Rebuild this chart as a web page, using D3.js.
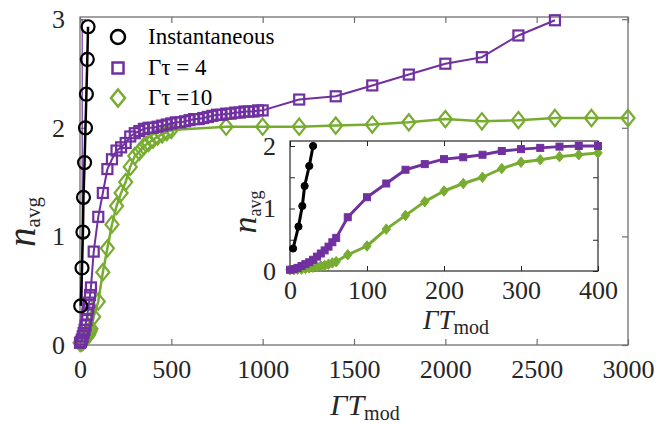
<!DOCTYPE html>
<html>
<head>
<meta charset="utf-8">
<script src="https://cdn.jsdelivr.net/npm/d3@7"></script>
<style>
  body { margin: 0; background: #ffffff; }
  svg { display: block; }
</style>
</head>
<body>
<script>
// ---- data ----
var instX = [4, 11, 16, 19, 25, 30, 35, 40, 44];
var instY = [0.36, 0.71, 1.04, 1.36, 1.68, 2.0, 2.31, 2.63, 2.93];

var tau4X = [0, 5, 10, 15, 20, 25, 30, 35, 40, 45, 50, 55, 60,
    75, 100, 125, 150, 175, 200, 225, 250, 275, 300, 325, 350, 375, 400,
    425, 450, 475, 500, 525, 550, 575, 600, 625, 650, 675, 700, 725, 750,
    775, 800, 825, 850, 875, 900, 925, 950, 975, 1000,
    1200, 1400, 1600, 1800, 2000, 2200, 2400, 2600];
var tau4Y = [0.02, 0.03, 0.05, 0.08, 0.11, 0.14, 0.18, 0.23, 0.28, 0.33, 0.39, 0.46, 0.53,
    0.86, 1.18, 1.40, 1.62, 1.71, 1.79, 1.82, 1.86, 1.92, 1.95, 1.97, 1.99, 2.0, 2.0,
    2.01, 2.02, 2.03, 2.04, 2.05, 2.05, 2.06, 2.07, 2.08, 2.08, 2.09, 2.10, 2.11, 2.12,
    2.12, 2.13, 2.13, 2.14, 2.14, 2.15, 2.15, 2.15, 2.16, 2.16,
    2.26, 2.29, 2.39, 2.49, 2.59, 2.65, 2.85, 2.99];

var tau10X = [0, 5, 10, 15, 20, 25, 30, 35, 40, 45, 50, 55, 60,
    75, 100, 125, 150, 175, 200, 225, 250, 275, 300, 325, 350, 375, 400,
    425, 450, 475, 500,
    800, 1000, 1200, 1400, 1600, 1800, 2000, 2200, 2400, 2600, 2800, 3000];
var tau10Y = [0.02, 0.02, 0.03, 0.03, 0.04, 0.05, 0.06, 0.07, 0.08, 0.09, 0.11, 0.13, 0.15,
    0.26, 0.40, 0.67, 0.89, 1.11, 1.28, 1.40, 1.50, 1.64, 1.74, 1.78, 1.83, 1.86, 1.89,
    1.92, 1.94, 1.96, 1.98,
    2.01, 2.01, 2.01, 2.02, 2.03, 2.05, 2.08, 2.06, 2.07, 2.09, 2.09, 2.09];

// thin purple trace hugging the left axis
var edgeX = [12, 12];
var edgeY = [0, 3];

var mainXTicks = [0, 500, 1000, 1500, 2000, 2500, 3000];
var mainYTicks = [0, 1, 2, 3];
var insetXTicks = [0, 100, 200, 300, 400];
var insetYTicks = [0, 0.5, 1, 1.5, 2];
var insetYLabels = [0, 1, 2];

var legendLabels = ["Instantaneous", "\u0393\u03c4 = 4", "\u0393\u03c4 =10"];

var black = "#000000";
var purple = "#7030a0";
var green = "#77ac30";

function pts(xs, ys) {
    return xs.map(function (d, i) { return [d, ys[i]]; });
}

var svg = d3.select("body")
    .append("svg")
    .attr("width", 667)
    .attr("height", 424);

// ---- main axes ----
var x = d3.scaleLinear().domain([0, 3000]).range([80, 628]);
var y = d3.scaleLinear().domain([0, 3.02]).range([345, 17]);

var axisColor = "#707070";

function styleAxis(g, showText, size) {
    g.select(".domain").remove();
    g.selectAll(".tick line").attr("stroke", axisColor).attr("stroke-width", 1.2);
    g.selectAll(".tick text")
        .attr("font-size", size)
        .attr("fill", "#262626");
    if (!showText) g.selectAll(".tick text").remove();
}

svg.append("g")
    .attr("transform", "translate(0,345)")
    .call(d3.axisBottom(x).tickValues(mainXTicks).tickSize(-6).tickPadding(15).tickFormat(d3.format("d")))
    .call(styleAxis, true, 26);
svg.append("g")
    .attr("transform", "translate(0,17)")
    .call(d3.axisTop(x).tickValues(mainXTicks).tickSize(-6))
    .call(styleAxis, false, 26);
svg.append("g")
    .attr("transform", "translate(80,0)")
    .call(d3.axisLeft(y).tickValues(mainYTicks).tickSize(-6).tickPadding(15).tickFormat(d3.format("d")))
    .call(styleAxis, true, 26);
svg.append("g")
    .attr("transform", "translate(628,0)")
    .call(d3.axisRight(y).tickValues(mainYTicks).tickSize(-6))
    .call(styleAxis, false, 26);

svg.append("rect")
    .attr("x", 80)
    .attr("y", 17)
    .attr("width", 548)
    .attr("height", 328)
    .attr("fill", "none")
    .attr("stroke", axisColor)
    .attr("stroke-width", 1.3);

// axis titles
var xt = svg.append("text")
    .attr("x", 365)
    .attr("y", 415)
    .attr("fill", "#262626")
    .attr("text-anchor", "middle");
xt.append("tspan").attr("font-style", "italic").attr("font-size", 30).text("\u0393T");
xt.append("tspan").attr("font-size", 20).attr("dy", 5).text("mod");

var yt = svg.append("text")
    .attr("transform", "translate(35,222) rotate(-90)")
    .attr("fill", "#262626")
    .attr("text-anchor", "middle");
yt.append("tspan").attr("font-style", "italic").attr("font-size", 39).text("n");
yt.append("tspan").attr("font-size", 21).attr("dy", 5).text("avg");

// ---- marker helpers ----
function diamondPath(cx, cy, w, h) {
    return "M" + cx + "," + (cy - h) + "L" + (cx + w) + "," + cy +
        "L" + cx + "," + (cy + h) + "L" + (cx - w) + "," + cy + "Z";
}

function drawSeries(g, sx, sy, data, color, lw, kind, size, filled) {
    var line = d3.line().x(function (d) { return sx(d[0]); }).y(function (d) { return sy(d[1]); });
    g.append("path")
        .attr("d", line(data))
        .attr("fill", "none")
        .attr("stroke", color)
        .attr("stroke-width", lw)
        .attr("stroke-linejoin", "round");
    var fill = filled ? color : "none";
    var sw = filled ? 1 : 2.2;
    if (kind === "circle") {
        g.selectAll(null).data(data).enter().append("circle")
            .attr("cx", function (d) { return sx(d[0]); })
            .attr("cy", function (d) { return sy(d[1]); })
            .attr("r", size)
            .attr("fill", fill)
            .attr("stroke", color)
            .attr("stroke-width", sw);
    } else if (kind === "square") {
        g.selectAll(null).data(data).enter().append("rect")
            .attr("x", function (d) { return sx(d[0]) - size; })
            .attr("y", function (d) { return sy(d[1]) - size; })
            .attr("width", size * 2)
            .attr("height", size * 2)
            .attr("fill", fill)
            .attr("stroke", color)
            .attr("stroke-width", sw);
    } else {
        g.selectAll(null).data(data).enter().append("path")
            .attr("d", function (d) { return diamondPath(sx(d[0]), sy(d[1]), size, size * 1.25); })
            .attr("fill", fill)
            .attr("stroke", color)
            .attr("stroke-width", sw);
    }
}

var main = svg.append("g");
main.append("path")
    .attr("d", d3.line().x(function (d) { return x(d[0]); }).y(function (d) { return y(d[1]); })(pts(edgeX, edgeY)))
    .attr("stroke", purple)
    .attr("stroke-width", 1.2);
drawSeries(main, x, y, pts(tau10X, tau10Y), green, 2.5, "diamond", 6.5, false);
drawSeries(main, x, y, pts(tau4X, tau4Y), purple, 2, "square", 5, false);
drawSeries(main, x, y, pts(instX, instY), black, 2.5, "circle", 6.5, false);

// ---- legend ----
var legend = svg.append("g");
var legY = [37, 68, 98];
legend.append("circle").attr("cx", 118).attr("cy", legY[0]).attr("r", 7)
    .attr("fill", "none").attr("stroke", black).attr("stroke-width", 2.5);
legend.append("rect").attr("x", 112.5).attr("y", legY[1] - 5.5).attr("width", 11).attr("height", 11)
    .attr("fill", "none").attr("stroke", purple).attr("stroke-width", 2.5);
legend.append("path").attr("d", diamondPath(118, legY[2], 7, 8.5))
    .attr("fill", "none").attr("stroke", green).attr("stroke-width", 2.5);
legend.selectAll(null).data(legendLabels).enter().append("text")
    .attr("x", 148)
    .attr("y", function (d, i) { return legY[i] + 7; })
    .attr("font-size", 23)
    .attr("fill", "#000")
    .text(function (d) { return d; });

// ---- inset ----
var ix = d3.scaleLinear().domain([0, 400]).range([290, 598]);
var iy = d3.scaleLinear().domain([0, 2.08]).range([271, 141]);
var insetColor = "#262626";

var inset = svg.append("g");
inset.append("rect")
    .attr("x", 290)
    .attr("y", 141)
    .attr("width", 308)
    .attr("height", 130)
    .attr("fill", "#ffffff");

function styleInset(g, showText) {
    g.select(".domain").remove();
    g.selectAll(".tick line").attr("stroke", insetColor).attr("stroke-width", 1);
    g.selectAll(".tick text")
        .attr("font-size", 26)
        .attr("fill", "#262626");
    if (!showText) g.selectAll(".tick text").remove();
}

inset.append("g")
    .attr("transform", "translate(0,271)")
    .call(d3.axisBottom(ix).tickValues(insetXTicks).tickSize(-5).tickPadding(10).tickFormat(d3.format("d")))
    .call(styleInset, true);
inset.append("g")
    .attr("transform", "translate(0,141)")
    .call(d3.axisTop(ix).tickValues(insetXTicks).tickSize(-5))
    .call(styleInset, false);
inset.append("g")
    .attr("transform", "translate(290,0)")
    .call(d3.axisLeft(iy).tickValues(insetYTicks).tickSize(-5).tickPadding(14)
        .tickFormat(function (d) { return insetYLabels.indexOf(d) >= 0 ? d3.format("d")(d) : ""; }))
    .call(styleInset, true);
inset.append("g")
    .attr("transform", "translate(598,0)")
    .call(d3.axisRight(iy).tickValues(insetYTicks).tickSize(-5))
    .call(styleInset, false);

inset.append("rect")
    .attr("x", 290)
    .attr("y", 141)
    .attr("width", 308)
    .attr("height", 130)
    .attr("fill", "none")
    .attr("stroke", insetColor)
    .attr("stroke-width", 1.2);

var insetData = inset.append("g");
var t4in = pts(tau4X, tau4Y).filter(function (d) { return d[0] <= 400; });
var t10in = pts(tau10X, tau10Y).filter(function (d) { return d[0] <= 400; });
drawSeries(insetData, ix, iy, t10in, green, 3, "diamond", 4.2, true);
drawSeries(insetData, ix, iy, t4in, purple, 3, "square", 3.5, true);
drawSeries(insetData, ix, iy, pts(instX, instY).filter(function (d) { return d[1] <= 2.05; }), black, 3, "circle", 3.6, true);

var ixt = inset.append("text")
    .attr("x", 456)
    .attr("y", 329)
    .attr("fill", "#262626")
    .attr("text-anchor", "middle");
ixt.append("tspan").attr("font-style", "italic").attr("font-size", 27).text("\u0393T");
ixt.append("tspan").attr("font-size", 20).attr("dy", 5).text("mod");

var iyt = inset.append("text")
    .attr("transform", "translate(256,212) rotate(-90)")
    .attr("fill", "#262626")
    .attr("text-anchor", "middle");
iyt.append("tspan").attr("font-style", "italic").attr("font-size", 34).text("n");
iyt.append("tspan").attr("font-size", 18).attr("dy", 5).text("avg");

// serif everywhere (set as a style so it wins over the axis defaults)
svg.selectAll("text, g").style("font-family", "'Liberation Serif'");
</script>
</body>
</html>
